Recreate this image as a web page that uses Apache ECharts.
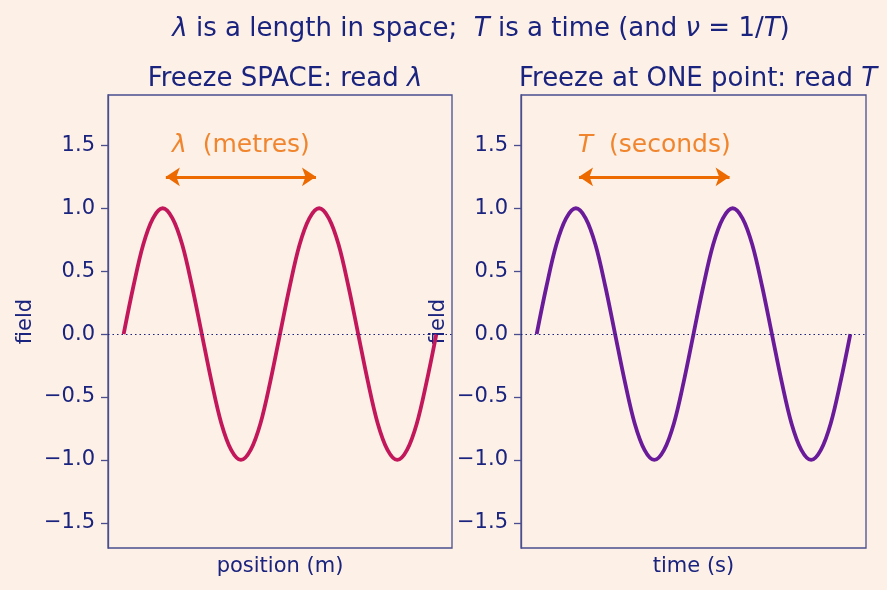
<!DOCTYPE html>
<html>
<head>
<meta charset="utf-8">
<script src="https://cdn.jsdelivr.net/npm/echarts@6/dist/echarts.min.js"></script>
<style>
  html, body { margin: 0; padding: 0; background: #fdf0e6; }
  #main { width: 887px; height: 590px; }
</style>
</head>
<body>
<div id="main"></div>
<script>
// sampled positions (m) / times (s), two full cycles
var xs = [0, 0.0625, 0.125, 0.1875, 0.25, 0.3125, 0.375, 0.4375, 0.5, 0.5625, 0.625, 0.6875, 0.75, 0.8125, 0.875, 0.9375,
          1, 1.0625, 1.125, 1.1875, 1.25, 1.3125, 1.375, 1.4375, 1.5, 1.5625, 1.625, 1.6875, 1.75, 1.8125, 1.875, 1.9375, 2];
// field values
var field = [0, 0.38, 0.71, 0.92, 1, 0.92, 0.71, 0.38, 0, -0.38, -0.71, -0.92, -1, -0.92, -0.71, -0.38,
             0, 0.38, 0.71, 0.92, 1, 0.92, 0.71, 0.38, 0, -0.38, -0.71, -0.92, -1, -0.92, -0.71, -0.38, 0];
var yTicks = [-1.5, -1, -0.5, 0, 0.5, 1, 1.5];
var arrowSpan = [0.27, 1.23];   // arrow ends, at field = 1.25
var arrowY = 1.25;
var noteAt = [0.75, 1.5];

var navy = '#1a237e', boxCol = '#4a4e8e', orange = '#ec6a00';
var font = 'DejaVu Sans';

function pairs(a, b) {
  var out = [];
  for (var i = 0; i < a.length; i++) out.push([a[i], b[i]]);
  return out;
}

function yAxisFor(i) {
  return {
    gridIndex: i, type: 'value', min: -1.7, max: 1.9,
    name: 'field', nameLocation: 'middle', nameGap: 72,
    nameTextStyle: { color: navy, fontSize: 21, fontFamily: font },
    axisLine: { show: true, onZero: false, lineStyle: { color: boxCol, width: 1.3 } },
    axisTick: { show: true, inside: false, length: 7, customValues: yTicks, lineStyle: { color: boxCol, width: 1.3 } },
    axisLabel: {
      customValues: yTicks, margin: 13, color: navy, fontSize: 21, fontFamily: font,
      formatter: function (v) { return v.toFixed(1).replace('-', '\u2212'); }
    },
    splitLine: { show: false }
  };
}

function xAxisFor(i, name) {
  return {
    gridIndex: i, type: 'value', min: -0.1, max: 2.1,
    name: name, nameLocation: 'middle', nameGap: 8,
    nameTextStyle: { color: navy, fontSize: 21, fontFamily: font, verticalAlign: 'top' },
    axisLine: { show: false, onZero: false }, axisTick: { show: false }, axisLabel: { show: false },
    splitLine: { show: false }
  };
}

function panel(i, color, sym, unit) {
  return [
    {
      type: 'line', xAxisIndex: i, yAxisIndex: i, data: pairs(xs, field),
      smooth: 0.35, showSymbol: false, lineStyle: { color: color, width: 3.8 },
      markLine: {
        silent: true, symbol: 'none', label: { show: false },
        lineStyle: { color: navy, type: [1.5, 3], width: 1 },
        data: [{ yAxis: 0 }]
      }
    },
    {
      type: 'lines', coordinateSystem: 'cartesian2d', xAxisIndex: i, yAxisIndex: i,
      symbol: ['arrow', 'arrow'], symbolSize: 14,
      lineStyle: { color: orange, width: 3, opacity: 1 },
      data: [{ coords: [[arrowSpan[0], arrowY], [arrowSpan[1], arrowY]] }]
    },
    {
      type: 'scatter', xAxisIndex: i, yAxisIndex: i, symbolSize: 0, data: [noteAt],
      label: {
        show: true, position: 'inside',
        formatter: '{it|' + sym + '}  (' + unit + ')',
        color: orange, fontSize: 25, fontFamily: font,
        rich: { it: { fontStyle: 'italic', color: orange, fontSize: 25, fontFamily: font } }
      }
    }
  ];
}

var chart = echarts.init(document.getElementById('main'));
var titleRich = { i: { fontStyle: 'italic', color: navy, fontSize: 26, fontFamily: font } };
chart.setOption({
  backgroundColor: '#fdf0e6',
  animation: false,
  title: [
    { text: '{i|λ} is a length in space;  {i|T} is a time (and {i|ν} = 1/{i|T})', left: 476, textAlign: 'center', top: 11,
      textStyle: { color: navy, fontSize: 26, fontWeight: 'normal', fontFamily: font, rich: titleRich } },
    { text: 'Freeze SPACE: read {i|λ}', left: 280, textAlign: 'center', top: 61,
      textStyle: { color: navy, fontSize: 26, fontWeight: 'normal', fontFamily: font, rich: titleRich } },
    { text: 'Freeze at ONE point: read {i|T}', left: 693, textAlign: 'center', top: 61,
      textStyle: { color: navy, fontSize: 26, fontWeight: 'normal', fontFamily: font, rich: titleRich } }
  ],
  grid: [
    { left: 108, top: 95, width: 344, height: 453, show: true, borderColor: boxCol, borderWidth: 1.3, backgroundColor: 'transparent' },
    { left: 521, top: 95, width: 345, height: 453, show: true, borderColor: boxCol, borderWidth: 1.3, backgroundColor: 'transparent' }
  ],
  xAxis: [xAxisFor(0, 'position (m)'), xAxisFor(1, 'time (s)')],
  yAxis: [yAxisFor(0), yAxisFor(1)],
  series: panel(0, '#c2185b', 'λ', 'metres').concat(panel(1, '#6a1b9a', 'T', 'seconds'))
});
</script>
</body>
</html>
